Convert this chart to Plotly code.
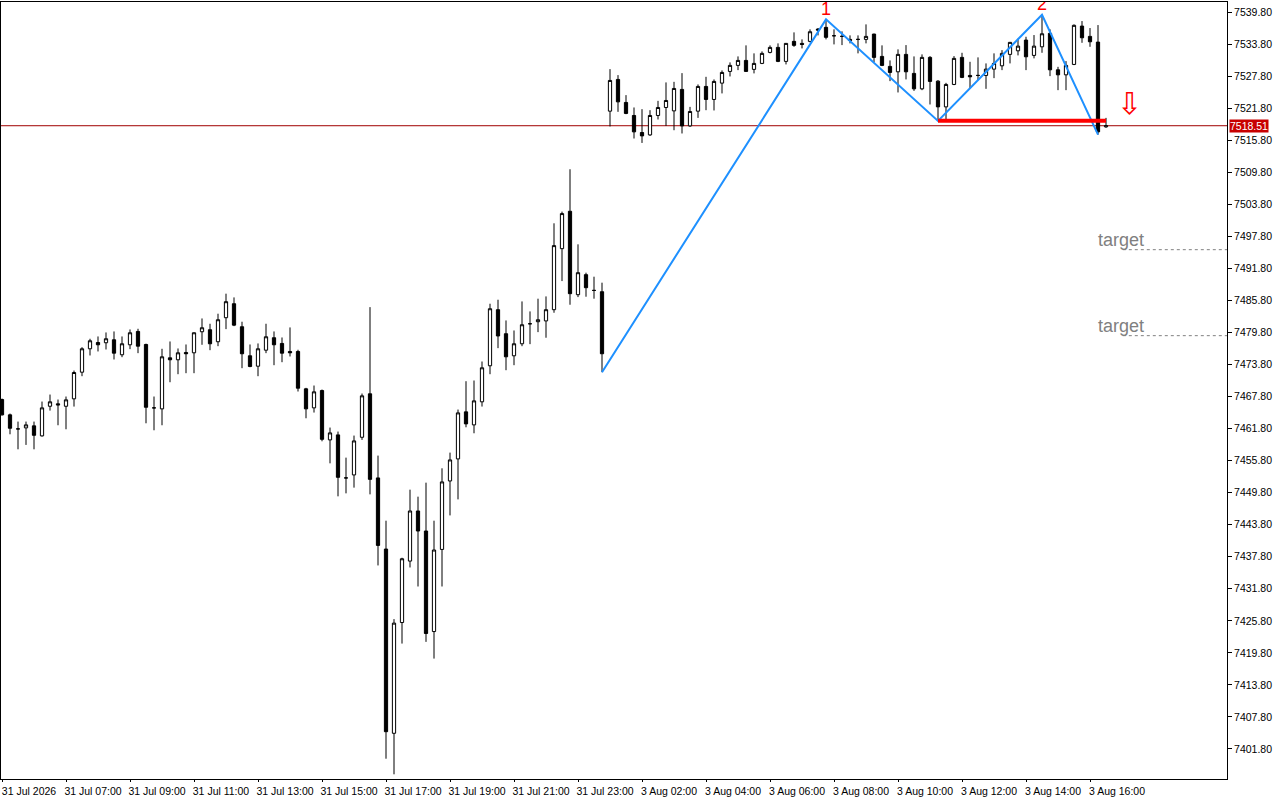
import plotly.graph_objects as go
import pandas as pd

# 15 minute bars, Fri 31 Jul 05:00-23:45 then Mon 3 Aug 01:00-16:30
times = [t.strftime("%Y.%m.%d %H:%M") for t in
         list(pd.date_range("2026-07-31 05:00", "2026-07-31 23:45", freq="15min")) +
         list(pd.date_range("2026-08-03 01:00", "2026-08-03 16:30", freq="15min"))]

opens = [7467.24, 7464.37, 7461.74, 7461.93, 7462.31, 7460.43, 7465.98, 7466.43, 7465.98, 7467.37,
         7472.36, 7476.74, 7477.92, 7477.87, 7478.43, 7475.62, 7477.49, 7479.99, 7477.55, 7465.68,
         7465.49, 7475.05, 7474.68, 7476.05, 7475.99, 7479.93, 7480.31, 7478.06, 7482.56, 7485.18,
         7480.87, 7475.43, 7473.48, 7476.48, 7478.81, 7477.74, 7476.24, 7476.24, 7469.24, 7465.68,
         7468.92, 7459.68, 7460.62, 7452.56, 7453.12, 7460.17, 7468.31, 7452.56, 7439.24, 7404.74,
         7425.48, 7436.99, 7446.37, 7442.62, 7423.79, 7439.17, 7451.99, 7456.12, 7464.93, 7462.49,
         7466.81, 7473.56, 7484.06, 7479.56, 7475.43, 7477.68, 7481.43, 7481.81, 7481.96, 7484.06,
         7495.49, 7502.49, 7486.87, 7490.62, 7487.67, 7487.43, 7521.24, 7527.18, 7522.87, 7520.43,
         7517.24, 7516.79, 7520.43, 7521.93, 7521.29, 7525.31, 7518.48, 7521.24, 7525.87, 7523.43,
         7526.49, 7528.68, 7529.81, 7530.74, 7529.06, 7530.18, 7532.24, 7533.18, 7530.56, 7534.31,
         7533.93, 7534.31, 7536.61, 7536.93, 7535.36, 7535.24, 7534.68, 7534.68, 7534.68, 7535.67,
         7531.49, 7529.62, 7528.61, 7531.87, 7528.31, 7525.42, 7531.31, 7526.86, 7522.04, 7526.24,
         7531.31, 7527.93, 7527.93, 7527.93, 7529.11, 7529.73, 7531.87, 7532.54, 7534.55, 7531.68,
         7533.29, 7535.81, 7528.98, 7528.04, 7529.99, 7537.17, 7535.24, 7534.17, 7518.30]

highs = [7467.42, 7464.61, 7463.11, 7463.11, 7463.11, 7466.86, 7468.17, 7467.24, 7467.80, 7472.67,
         7477.04, 7478.62, 7479.05, 7479.80, 7479.99, 7479.05, 7480.36, 7480.49, 7477.70, 7467.80,
         7476.74, 7478.11, 7476.80, 7477.55, 7479.80, 7482.42, 7481.43, 7483.31, 7487.06, 7486.36,
         7481.81, 7477.55, 7477.74, 7481.43, 7479.99, 7478.86, 7480.74, 7476.56, 7469.43, 7469.86,
         7469.11, 7461.99, 7461.24, 7456.36, 7460.49, 7468.36, 7484.54, 7456.74, 7444.55, 7426.12,
         7437.61, 7450.36, 7449.05, 7451.67, 7444.55, 7454.36, 7457.30, 7465.36, 7470.67, 7470.80,
         7474.36, 7485.18, 7485.93, 7482.05, 7480.17, 7485.61, 7483.74, 7486.12, 7486.55, 7500.24,
         7502.43, 7510.36, 7496.30, 7490.99, 7490.24, 7489.12, 7529.11, 7527.99, 7524.24, 7521.93,
         7521.61, 7521.42, 7523.17, 7526.62, 7526.73, 7528.36, 7522.04, 7526.24, 7527.67, 7527.18,
         7528.87, 7530.37, 7531.49, 7533.56, 7532.06, 7532.43, 7533.56, 7533.93, 7533.99, 7535.99,
         7534.68, 7536.56, 7536.80, 7538.43, 7536.56, 7536.18, 7535.43, 7535.43, 7537.49, 7535.74,
         7533.56, 7530.74, 7532.81, 7533.61, 7531.49, 7531.87, 7531.55, 7527.05, 7526.54, 7531.55,
         7532.17, 7530.48, 7531.31, 7530.18, 7532.06, 7532.67, 7534.20, 7534.79, 7535.17, 7535.49,
         7539.29, 7536.56, 7529.54, 7530.61, 7537.49, 7538.11, 7536.80, 7537.36, 7519.98]

lows = [7464.24, 7460.73, 7457.92, 7458.74, 7457.92, 7460.30, 7465.17, 7462.42, 7461.67, 7465.92,
        7471.61, 7475.49, 7476.24, 7476.61, 7474.74, 7475.17, 7476.67, 7475.92, 7462.79, 7461.48,
        7462.42, 7470.48, 7471.98, 7472.17, 7472.17, 7477.49, 7476.48, 7477.23, 7480.42, 7480.98,
        7473.11, 7473.29, 7471.61, 7475.92, 7473.67, 7474.23, 7475.30, 7468.74, 7463.73, 7464.80,
        7459.42, 7455.29, 7449.11, 7449.67, 7450.74, 7459.68, 7449.48, 7436.17, 7399.98, 7397.06,
        7421.54, 7435.79, 7432.23, 7421.86, 7418.73, 7432.23, 7445.54, 7448.54, 7462.04, 7460.92,
        7465.92, 7471.98, 7476.86, 7472.73, 7473.67, 7477.23, 7477.61, 7479.86, 7478.81, 7483.49,
        7489.42, 7484.99, 7486.42, 7486.49, 7486.12, 7472.36, 7518.37, 7521.11, 7520.67, 7516.12,
        7515.29, 7516.61, 7519.68, 7518.48, 7517.67, 7517.06, 7518.29, 7519.98, 7521.42, 7521.37,
        7524.56, 7527.74, 7528.92, 7528.61, 7528.31, 7530.05, 7532.06, 7530.42, 7529.99, 7533.29,
        7532.99, 7534.12, 7535.43, 7534.68, 7533.74, 7533.61, 7533.93, 7532.06, 7533.93, 7530.42,
        7529.67, 7526.86, 7524.74, 7527.18, 7525.04, 7525.17, 7522.49, 7519.42, 7519.68, 7526.11,
        7527.42, 7525.55, 7527.05, 7525.42, 7527.42, 7528.92, 7530.18, 7531.68, 7528.92, 7531.12,
        7532.17, 7527.80, 7525.17, 7525.17, 7529.86, 7534.04, 7533.29, 7516.83, 7518.11]

closes = [7464.37, 7461.86, 7461.74, 7462.49, 7460.54, 7465.68, 7466.81, 7466.24, 7467.18, 7472.30,
          7476.74, 7478.24, 7477.49, 7478.62, 7475.92, 7477.68, 7479.74, 7477.23, 7465.79, 7465.68,
          7475.24, 7474.68, 7475.99, 7475.81, 7479.74, 7480.68, 7477.68, 7482.18, 7485.56, 7481.17,
          7475.81, 7473.42, 7476.74, 7478.99, 7477.49, 7475.92, 7475.99, 7469.36, 7465.49, 7468.68,
          7459.79, 7460.99, 7452.67, 7452.56, 7459.49, 7467.93, 7452.29, 7439.92, 7405.04, 7425.37,
          7437.42, 7446.37, 7442.62, 7423.42, 7439.06, 7451.81, 7455.93, 7464.74, 7462.68, 7466.99,
          7473.18, 7484.24, 7479.14, 7475.24, 7477.68, 7481.24, 7481.43, 7482.18, 7484.06, 7496.06,
          7502.06, 7487.06, 7490.99, 7488.18, 7487.67, 7475.81, 7526.99, 7522.98, 7520.81, 7517.36,
          7516.61, 7520.43, 7521.93, 7523.24, 7525.49, 7518.48, 7521.18, 7525.87, 7523.43, 7526.81,
          7528.49, 7529.81, 7530.74, 7528.68, 7530.18, 7532.06, 7533.18, 7530.56, 7533.93, 7533.56,
          7533.74, 7536.11, 7536.42, 7535.06, 7535.36, 7535.24, 7534.49, 7534.68, 7535.24, 7531.31,
          7529.81, 7528.49, 7531.87, 7528.61, 7525.42, 7531.31, 7526.81, 7522.04, 7526.24, 7531.12,
          7527.56, 7527.67, 7527.93, 7529.11, 7530.18, 7532.06, 7534.12, 7533.42, 7531.42, 7533.42,
          7535.73, 7528.98, 7528.04, 7529.81, 7537.31, 7534.98, 7534.23, 7517.36, 7518.51]

# zigzag pivots (bar index, price)
zz_bars = [75, 103, 117, 130, 137]
zz_prices = [7472.36, 7538.43, 7519.42, 7539.29, 7516.83]
peak_bars = [103, 130]
peak_prices = [7538.43, 7539.29]
peak_labels = ["1", "2"]
neck_price = 7519.42
neck_bars = [117, 138]
last_price = 7518.51
target_prices = [7495.3, 7479.2]

y_ticks = [7401.8, 7407.8, 7413.8, 7419.8, 7425.8, 7431.8, 7437.8, 7443.8, 7449.8, 7455.8,
           7461.8, 7467.8, 7473.8, 7479.8, 7485.8, 7491.8, 7497.8, 7503.8, 7509.8, 7515.8,
           7521.8, 7527.8, 7533.8, 7539.8]
x_tick_bars = [0, 8, 16, 24, 32, 40, 48, 56, 64, 72, 80, 88, 96, 104, 112, 120, 128, 136]
x_tick_text = ["31 Jul 2026", "31 Jul 07:00", "31 Jul 09:00", "31 Jul 11:00", "31 Jul 13:00",
               "31 Jul 15:00", "31 Jul 17:00", "31 Jul 19:00", "31 Jul 21:00", "31 Jul 23:00",
               "3 Aug 02:00", "3 Aug 04:00", "3 Aug 06:00", "3 Aug 08:00", "3 Aug 10:00",
               "3 Aug 12:00", "3 Aug 14:00", "3 Aug 16:00"]

fig = go.Figure()
fig.add_trace(go.Candlestick(
    x=times, open=opens, high=highs, low=lows, close=closes,
    increasing=dict(line=dict(color="black", width=1), fillcolor="white"),
    decreasing=dict(line=dict(color="black", width=1), fillcolor="black"),
    whiskerwidth=0, showlegend=False, hoverinfo="skip"))

fig.add_trace(go.Scatter(x=[times[i] for i in zz_bars], y=zz_prices, mode="lines",
                         line=dict(color="#1e90ff", width=2), showlegend=False, hoverinfo="skip"))
fig.add_trace(go.Scatter(x=[times[i] for i in neck_bars], y=[neck_price, neck_price], mode="lines",
                         line=dict(color="#ff0000", width=4), showlegend=False, hoverinfo="skip"))
fig.add_trace(go.Scatter(x=[times[i] for i in peak_bars], y=peak_prices, mode="text",
                         text=peak_labels, textposition="top center",
                         textfont=dict(color="#ff0000", size=18, family="Liberation Sans"),
                         showlegend=False, hoverinfo="skip"))

# current price line and tag
fig.add_shape(type="line", xref="paper", x0=0, x1=1, y0=last_price, y1=last_price,
              line=dict(color="#a00000", width=1), layer="below")
fig.add_annotation(xref="paper", x=1, xanchor="left", xshift=2, y=last_price, yanchor="middle",
                   text=f"{last_price:.2f}", showarrow=False, bgcolor="#c80000", borderpad=0,
                   font=dict(color="white", size=10.5, family="Liberation Sans"))

# sell arrow
fig.add_annotation(x=140.9, y=7522.6, text="\u21e9", showarrow=False,
                   font=dict(color="#ff0000", size=30, family="DejaVu Sans"))

# targets
for tp in target_prices:
    fig.add_shape(type="line", x0=140.1, x1=153.2, y0=tp, y1=tp,
                  line=dict(color="#808080", width=1, dash="3px,3px"))
    fig.add_annotation(x=139.9, y=tp + 1.9, text="target", showarrow=False,
                       font=dict(color="#808080", size=18, family="Liberation Sans"))

fig.update_layout(
    width=1280, height=800,
    margin=dict(l=1, r=53, t=2, b=21),
    paper_bgcolor="white", plot_bgcolor="white",
    font=dict(family="Liberation Sans", size=10.5, color="black"),
    boxgap=0.42,
    xaxis=dict(type="category", range=[-0.125, 153.125], rangeslider=dict(visible=False),
               showgrid=False, zeroline=False, showline=True, mirror=True,
               linecolor="black", linewidth=1,
               tickmode="array", tickvals=[times[i] for i in x_tick_bars], ticktext=x_tick_text,
               ticks="outside", ticklen=2, tickcolor="black", ticklabelshift=27,
               tickangle=0),
    yaxis=dict(side="right", range=[7396.18, 7541.68], showgrid=False, zeroline=False,
               showline=True, mirror=True, linecolor="black", linewidth=1,
               tickmode="array", tickvals=y_ticks, tickformat=".2f",
               ticks="outside", ticklen=4, tickcolor="black"),
)

fig.write_html("out.html", config={"displayModeBar": False},
               post_script="document.body.style.margin='0';")
